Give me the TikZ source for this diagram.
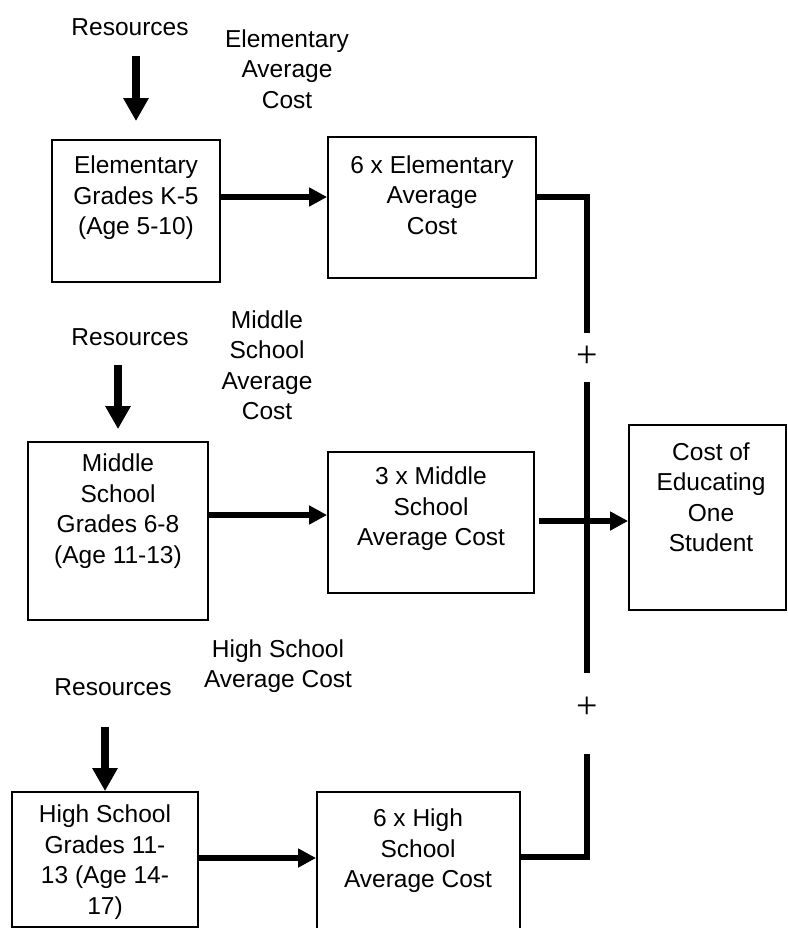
\documentclass[tikz,border=0pt]{standalone}
\usepackage{fontspec}
\setmainfont{Liberation Sans}
\newfontfamily\plusfont{Liberation Serif}
\usetikzlibrary{arrows.meta}
\begin{document}
\begin{tikzpicture}[x=1pt,y=-1pt,
  box/.style={draw, line width=1.8pt, rectangle, inner sep=0pt},
  txt/.style={align=center, inner sep=0pt, font=\fontsize{24.5}{30.5}\selectfont},
  harrow/.style={line width=6.5pt, -{Triangle[length=18pt,width=18pt]}},
  darrow/.style={line width=8pt, -{Triangle[length=23pt,width=24pt]}},
  bus/.style={line width=6.5pt},
  plus/.style={inner sep=0pt, font=\plusfont\fontsize{38}{38}\selectfont}]
\useasboundingbox (0,0) rectangle (787,928);
\clip (0,0) rectangle (787,928);

% boxes
\node[box, minimum width=168pt, minimum height=142pt] (elem) at (136,211) {};
\node[box, minimum width=208pt, minimum height=141pt] (e6) at (432,207.5) {};
\node[box, minimum width=180pt, minimum height=178pt] (mid) at (118,531) {};
\node[box, minimum width=206pt, minimum height=141pt] (m3) at (431,522.5) {};
\node[box, minimum width=157pt, minimum height=185pt] (cost) at (707.5,517.5) {};
\node[box, minimum width=186pt, minimum height=135pt] (hs) at (105,859.5) {};
\node[box, minimum width=203pt, minimum height=143pt] (h6) at (418.5,863.5) {};

% box texts
\node[txt] (elemT) at (136,198) {Elementary\\Grades K-5\\(Age 5-10)};
\node[txt] (e6T) at (432,195) {6 x Elementary\\Average\\Cost};
\node[txt] (midT) at (118,511) {Middle\\School\\Grades 6-8\\(Age 11-13)};
\node[txt] (m3T) at (431,509) {3 x Middle\\School\\Average Cost};
\node[txt] (costT) at (711,497) {Cost of\\Educating\\One\\Student};
\node[txt] (hsT) at (105,862) {High School\\Grades 11-\\13 (Age 14-\\17)};
\node[txt] (h6T) at (418,851) {6 x High\\School\\Average Cost};

% labels
\node[txt] (res1) at (130,27) {Resources};
\node[txt] (elab) at (287,69) {Elementary\\Average\\Cost};
\node[txt] (res2) at (130,337) {Resources};
\node[txt] (mlab) at (267,365) {Middle\\School\\Average\\Cost};
\node[txt] (res3) at (113,687) {Resources};
\node[txt] (hlab) at (278,666) {High School\\Average Cost};

% plus signs
\node[plus] (plus1) at (587,357) {+};
\node[plus] (plus2) at (587,708) {+};

% resource arrows
\draw[darrow, shorten <=20pt, shorten >=18pt] (res1.south -| elem.north) -- (elem.north);
\draw[darrow, shorten <=19pt, shorten >=12pt] (res2.south -| mid.north) -- (mid.north);
\draw[darrow, shorten <=31pt] (res3.south -| hs.north) -- (hs.north);

% horizontal arrows
\draw[harrow] ([yshift=14pt]elem.east) -- ([yshift=14pt]elem.east -| e6.west);
\draw[harrow] ([yshift=16pt]mid.east) -- ([yshift=16pt]mid.east -| m3.west);
\draw[harrow] ([yshift=1.5pt]hs.east) -- ([yshift=1.5pt]hs.east -| h6.west);
\draw[harrow, shorten <=4pt] ([yshift=1.5pt]m3.east) -- ([yshift=1.5pt]m3.east -| cost.west);

% summing bus
\draw[bus, shorten >=24pt] ([yshift=10.5pt]e6.east) -| (plus1.center);
\draw[bus, shorten <=25pt, shorten >=35pt] (plus1.center) -- (plus2.center);
\draw[bus, shorten >=46pt] ([yshift=6.5pt]h6.east) -| (plus2.center);
\end{tikzpicture}
\end{document}
